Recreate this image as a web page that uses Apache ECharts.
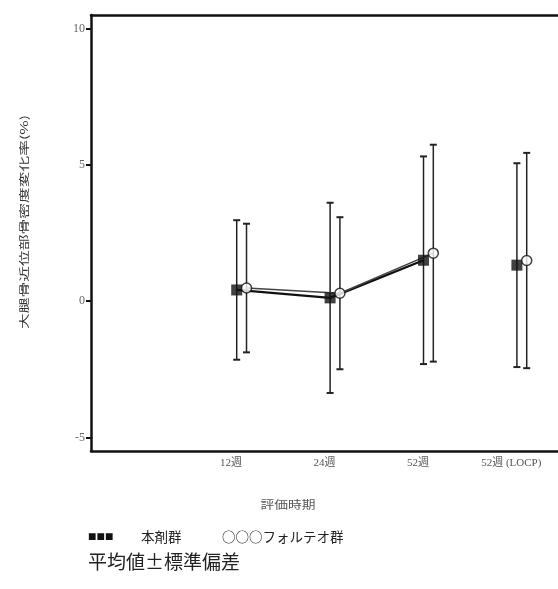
<!DOCTYPE html>
<html>
<head>
<meta charset="utf-8">
<script src="https://cdn.jsdelivr.net/npm/echarts@6/dist/echarts.min.js"></script>
<style>
  html, body { margin: 0; padding: 0; background: #fff; }
  #chart { width: 558px; height: 589px; }
</style>
</head>
<body>
<div id="chart"></div>
<script>
// Evaluation time points
const categories = ['12週', '24週', '52週', '52週 (LOCP)'];
// 本剤群: mean and standard deviation (%)
const meanA = [0.41, 0.12, 1.50, 1.32];
const sdA = [2.56, 3.49, 3.81, 3.74];
// フォルテオ群: mean and standard deviation (%)
const meanB = [0.48, 0.29, 1.76, 1.49];
const sdB = [2.36, 2.79, 3.98, 3.95];
// y-axis tick labels
const yTicks = [-5, 0, 5, 10];
// points joined by the trend line (the LOCP point stands alone)
const linkedCount = 3;

// horizontal dodge of each group around its category
const OFFSET_A = 0.06;
const OFFSET_B = 0.165;

const CJK = "'Noto Sans CJK JP', sans-serif";
const NUM = "'Liberation Serif', 'Noto Sans CJK JP', serif";
const INK = '#111';

function points(means, offset) {
  return means.map((m, i) => [i + 1 + offset, m]);
}
function bars(means, sds, offset) {
  return means.map((m, i) => [i + 1 + offset, m - sds[i], m + sds[i]]);
}

function errorBarSeries(data, color, width) {
  return {
    type: 'custom',
    data: data,
    encode: { x: 0, y: [1, 2] },
    z: 2,
    renderItem: function (params, api) {
      const x = api.value(0);
      const lo = api.coord([x, api.value(1)]);
      const hi = api.coord([x, api.value(2)]);
      const cap = 3.5;
      const st = { stroke: color, lineWidth: width };
      return {
        type: 'group',
        children: [
          { type: 'line', shape: { x1: hi[0], y1: hi[1], x2: lo[0], y2: lo[1] }, style: st },
          { type: 'line', shape: { x1: hi[0] - cap, y1: hi[1], x2: hi[0] + cap, y2: hi[1] }, style: { stroke: color, lineWidth: 2 } },
          { type: 'line', shape: { x1: lo[0] - cap, y1: lo[1], x2: lo[0] + cap, y2: lo[1] }, style: { stroke: color, lineWidth: 2 } }
        ]
      };
    }
  };
}

const chart = echarts.init(document.getElementById('chart'), null, { renderer: 'canvas' });

chart.setOption({
  animation: false,
  backgroundColor: '#fff',
  grid: { left: 91, top: 15, right: -4, bottom: 138, containLabel: false },
  xAxis: [
    {
      type: 'value',
      min: -0.5,
      max: 4.5,
      position: 'bottom',
      splitLine: { show: false },
      axisTick: { show: false },
      axisLine: { onZero: false, lineStyle: { color: INK, width: 2.5 } },
      axisLabel: {
        customValues: [1, 2, 3, 4],
        formatter: v => categories[Math.round(v) - 1] || '',
        color: '#555',
        fontSize: 11,
        fontFamily: NUM,
        margin: 7
      }
    },
    {
      type: 'value',
      min: -0.5,
      max: 4.5,
      position: 'top',
      splitLine: { show: false },
      axisTick: { show: false },
      axisLabel: { show: false },
      axisLine: { onZero: false, lineStyle: { color: INK, width: 2.5 } }
    }
  ],
  yAxis: {
    type: 'value',
    min: -5.5,
    max: 10.5,
    splitLine: { show: false },
    axisLine: { onZero: false, lineStyle: { color: INK, width: 2.5 } },
    axisTick: {
      customValues: yTicks,
      length: 5,
      lineStyle: { color: INK, width: 2 }
    },
    axisLabel: {
      customValues: yTicks,
      color: '#666',
      fontSize: 12,
      fontFamily: NUM,
      margin: 6
    }
  },
  graphic: [
    {
      type: 'text',
      x: 24, y: 222,
      rotation: Math.PI / 2,
      scaleX: 1.5,
      style: {
        text: '大腿骨近位部骨密度変化率(%)',
        fontSize: 10.5,
        fontFamily: CJK,
        fill: '#333',
        align: 'center',
        verticalAlign: 'middle'
      }
    },
    {
      type: 'text',
      x: 288, y: 505,
      scaleX: 1.25,
      style: {
        text: '評価時期',
        fontSize: 11,
        fontFamily: CJK,
        fill: '#555',
        align: 'center',
        verticalAlign: 'middle'
      }
    },
    {
      type: 'text',
      x: 88, y: 537,
      style: { text: '■■■', fontSize: 8.5, fontFamily: CJK, fill: '#111', align: 'left', verticalAlign: 'middle' }
    },
    {
      type: 'text',
      x: 141, y: 537,
      style: { text: '本剤群', fontSize: 13.5, fontFamily: CJK, fill: '#222', align: 'left', verticalAlign: 'middle' }
    },
    {
      type: 'text',
      x: 222, y: 537,
      style: { text: '○○○フォルテオ群', fontSize: 13.5, fontFamily: CJK, fill: '#222', align: 'left', verticalAlign: 'middle' }
    },
    {
      type: 'text',
      x: 88, y: 562,
      style: { text: '平均値±標準偏差', fontSize: 19, fontFamily: CJK, fill: '#222', align: 'left', verticalAlign: 'middle' }
    }
  ],
  series: [
    errorBarSeries(bars(meanA, sdA, OFFSET_A), '#222', 1.5),
    errorBarSeries(bars(meanB, sdB, OFFSET_B), '#222', 1.5),
    {
      type: 'line',
      data: points(meanA, OFFSET_A).slice(0, linkedCount),
      showSymbol: false,
      z: 3,
      lineStyle: { color: '#111', width: 2.2 }
    },
    {
      type: 'line',
      data: points(meanB, OFFSET_B).slice(0, linkedCount),
      showSymbol: false,
      z: 3,
      lineStyle: { color: '#444', width: 1.5 }
    },
    {
      type: 'scatter',
      data: points(meanA, OFFSET_A),
      symbol: 'rect',
      symbolSize: 11,
      z: 4,
      itemStyle: { color: '#111' }
    },
    {
      type: 'scatter',
      data: points(meanB, OFFSET_B),
      symbol: 'circle',
      symbolSize: 10,
      z: 5,
      itemStyle: { color: '#fff', borderColor: '#111', borderWidth: 1.5 }
    }
  ]
});
</script>
</body>
</html>
